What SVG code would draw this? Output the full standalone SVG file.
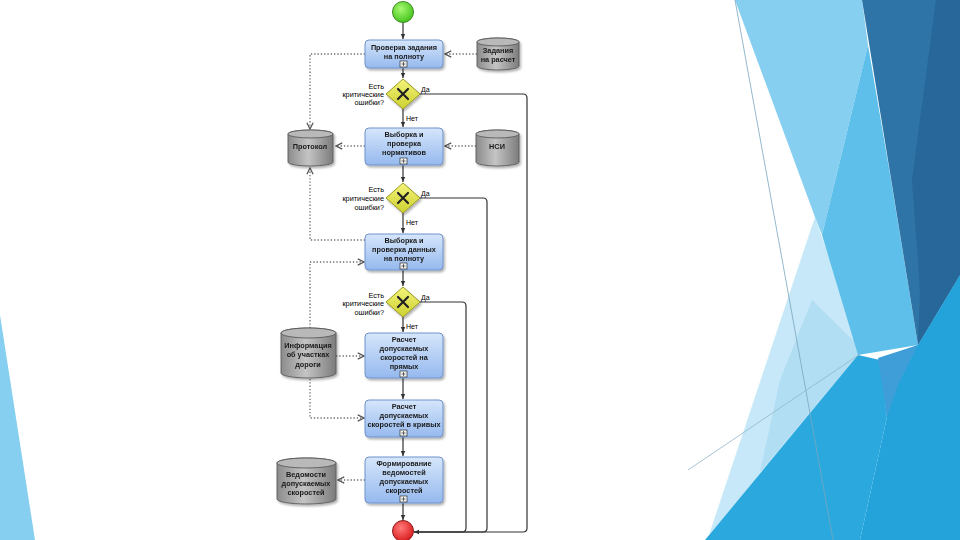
<svg xmlns="http://www.w3.org/2000/svg" width="960" height="540" viewBox="0 0 960 540">
<defs>
<style>
text{font-family:"Liberation Sans",Arial,sans-serif;font-size:7.3px;font-weight:bold;fill:#1a1a1a}
.c{text-anchor:middle}
.r{text-anchor:end;font-weight:normal;fill:#000}
.lab{font-weight:normal;font-size:7px;fill:#000}
.task{fill:url(#gTask);stroke:#6f93cc;stroke-width:1}
.store{fill:url(#gStore);stroke:#5a5a5a;stroke-width:0.9}
.storetop{fill:#b9b9b9;stroke:#5a5a5a;stroke-width:0.9}
.gw{fill:url(#gGw);stroke:#9a9a20;stroke-width:1}
.x{stroke:#222;stroke-width:2.2;stroke-linecap:round}
.flow{fill:none;stroke:#333;stroke-width:1.2}
.dot{fill:none;stroke:#6a6a6a;stroke-width:1.3;stroke-dasharray:1.3 2}
.mk{fill:#f4f4f4;stroke:#333;stroke-width:0.7}
.bg{stroke:none}
</style>
<linearGradient id="gTask" x1="0" y1="0" x2="0" y2="1"><stop offset="0" stop-color="#d6e6fb"/><stop offset="1" stop-color="#95b9ee"/></linearGradient>
<linearGradient id="gStore" x1="0" y1="0" x2="1" y2="0"><stop offset="0" stop-color="#8c8c8c"/><stop offset="0.45" stop-color="#c4c4c4"/><stop offset="1" stop-color="#7c7c7c"/></linearGradient>
<linearGradient id="gGw" x1="0" y1="0" x2="0" y2="1"><stop offset="0" stop-color="#f4f47a"/><stop offset="1" stop-color="#cdd030"/></linearGradient>
<radialGradient id="gStart" cx="0.4" cy="0.35" r="0.7"><stop offset="0" stop-color="#a8f870"/><stop offset="1" stop-color="#3fc21a"/></radialGradient>
<radialGradient id="gEnd" cx="0.4" cy="0.35" r="0.7"><stop offset="0" stop-color="#ff7a7a"/><stop offset="1" stop-color="#d81818"/></radialGradient>
<filter id="sh" x="-20%" y="-20%" width="140%" height="150%"><feDropShadow dx="1.5" dy="2" stdDeviation="1.2" flood-color="#000" flood-opacity="0.3"/></filter>
<marker id="ah" viewBox="0 0 10 10" refX="9" refY="5" markerWidth="5" markerHeight="5" orient="auto"><path d="M0,1 L9,5 L0,9 Z" fill="#333"/></marker>
<marker id="oa" viewBox="0 0 10 10" refX="9" refY="5" markerWidth="6" markerHeight="6" orient="auto"><path d="M1,1 L9,5 L1,9" fill="none" stroke="#555" stroke-width="1.6"/></marker>
</defs>

<!-- background decoration -->
<g id="background">
<rect width="960" height="540" fill="#ffffff"/>
<polygon class="bg" points="0,315 35,540 0,540" fill="#86cff0"/>
<polygon class="bg" points="815,217 860,347 858,355 709,535" fill="#c6e8f8"/>
<polygon class="bg" points="812,300 860,347 858,355 760,472 780,380" fill="#b2def4"/>
<polygon class="bg" points="735,0 862,0 868,45 822,235 815,217" fill="#86cff0"/>
<polygon class="bg" points="868,45 891,180 918,345 858,355 822,235" fill="#5ec0ea"/>
<polygon class="bg" points="862,0 960,0 960,275 918,345" fill="#2e74a6"/>
<polygon class="bg" points="936,0 960,0 960,275 918,345 920,290 912,180" fill="#276799"/>
<polygon class="bg" points="705,540 858,355 880,360 887,417 860,540" fill="#2ba9df"/>
<polygon class="bg" points="880,360 918,345 960,275 960,540 860,540 887,417" fill="#23a3da"/>
<polygon class="bg" points="878,358 918,345 898,385 887,417" fill="#3f9dd7"/>
<line x1="735" y1="0" x2="833" y2="540" stroke="#7aa6bf" stroke-width="0.8"/>
<line x1="688" y1="470" x2="860" y2="354" stroke="#8fb6c8" stroke-width="0.8"/>
</g>

<!-- connectors -->
<g id="connectors">
<path class="flow" d="M403,23 V39" marker-end="url(#ah)"/>
<path class="flow" d="M403,68 V78" marker-end="url(#ah)"/>
<path class="flow" d="M403,109 V127" marker-end="url(#ah)"/>
<path class="flow" d="M403,165 V182" marker-end="url(#ah)"/>
<path class="flow" d="M403,213 V233" marker-end="url(#ah)"/>
<path class="flow" d="M403,270 V286" marker-end="url(#ah)"/>
<path class="flow" d="M403,317 V332" marker-end="url(#ah)"/>
<path class="flow" d="M403,378 V399" marker-end="url(#ah)"/>
<path class="flow" d="M403,437 V456" marker-end="url(#ah)"/>
<path class="flow" d="M403,503 V520" marker-end="url(#ah)"/>
<path class="flow" d="M420,94 H523 Q527,94 527,98 V528 Q527,532 523,532 H414" marker-end="url(#ah)"/>
<path class="flow" d="M420,198 H483 Q487,198 487,202 V528 Q487,532 483,532 H414"/>
<path class="flow" d="M420,302 H462 Q466,302 466,306 V528 Q466,532 462,532 H414"/>
<path class="dot" d="M365,54 H310 V129" marker-end="url(#oa)"/>
<path class="dot" d="M477,54 H445" marker-end="url(#oa)"/>
<path class="dot" d="M365,146 H336" marker-end="url(#oa)"/>
<path class="dot" d="M476,146 H445" marker-end="url(#oa)"/>
<path class="dot" d="M365,240 H310 V168" marker-end="url(#oa)"/>
<path class="dot" d="M310,328 V262 H364" marker-end="url(#oa)"/>
<path class="dot" d="M336,356 H364" marker-end="url(#oa)"/>
<path class="dot" d="M310,379 V418 H364" marker-end="url(#oa)"/>
<path class="dot" d="M365,480 H338" marker-end="url(#oa)"/>
<text class="lab" x="421" y="92">Да</text>
<text class="lab" x="406" y="121">Нет</text>
<text class="lab" x="421" y="196">Да</text>
<text class="lab" x="406" y="225">Нет</text>
<text class="lab" x="421" y="300">Да</text>
<text class="lab" x="406" y="329">Нет</text>
</g>

<g id="start"><circle cx="403" cy="12" r="10.5" fill="url(#gStart)" stroke="#3b8a1c" stroke-width="1"/></g>
<g id="end"><circle cx="403" cy="531" r="10.5" fill="url(#gEnd)" stroke="#8a1a1a" stroke-width="1"/></g>

<g id="task1" filter="url(#sh)">
<rect class="task" x="365" y="40" width="78" height="28" rx="4"/>
<text class="c" x="404" y="50">Проверка задания</text>
<text class="c" x="404" y="59">на полноту</text>
<rect class="mk" x="400" y="61" width="7" height="6"/><path d="M403.5,62 V66 M401.5,64 H405.5" stroke="#333" stroke-width="0.7"/>
</g>

<g id="gw1">
<polygon class="gw" points="403,79 420,94 403,109 386,94" filter="url(#sh)"/>
<path class="x" d="M398,89 L408,99 M408,89 L398,99"/>
<text class="r" x="384" y="89">Есть</text>
<text class="r" x="384" y="97">критические</text>
<text class="r" x="384" y="105">ошибки?</text>
</g>

<g id="task2" filter="url(#sh)">
<rect class="task" x="365" y="128" width="78" height="37" rx="4"/>
<text class="c" x="404" y="137">Выборка и</text>
<text class="c" x="404" y="146">проверка</text>
<text class="c" x="404" y="155">нормативов</text>
<rect class="mk" x="400" y="158" width="7" height="6"/><path d="M403.5,159 V163 M401.5,161 H405.5" stroke="#333" stroke-width="0.7"/>
</g>

<g id="gw2">
<polygon class="gw" points="403,183 420,198 403,213 386,198" filter="url(#sh)"/>
<path class="x" d="M398,193 L408,203 M408,193 L398,203"/>
<text class="r" x="384" y="192">Есть</text>
<text class="r" x="384" y="201">критические</text>
<text class="r" x="384" y="210">ошибки?</text>
</g>

<g id="task3" filter="url(#sh)">
<rect class="task" x="365" y="234" width="78" height="36" rx="4"/>
<text class="c" x="404" y="243">Выборка и</text>
<text class="c" x="404" y="252">проверка данных</text>
<text class="c" x="404" y="261">на полноту</text>
<rect class="mk" x="400" y="263" width="7" height="6"/><path d="M403.5,264 V268 M401.5,266 H405.5" stroke="#333" stroke-width="0.7"/>
</g>

<g id="gw3">
<polygon class="gw" points="403,287 420,302 403,317 386,302" filter="url(#sh)"/>
<path class="x" d="M398,297 L408,307 M408,297 L398,307"/>
<text class="r" x="384" y="298">Есть</text>
<text class="r" x="384" y="306">критические</text>
<text class="r" x="384" y="315">ошибки?</text>
</g>

<g id="task4" filter="url(#sh)">
<rect class="task" x="365" y="333" width="78" height="45" rx="4"/>
<text class="c" x="404" y="342">Расчет</text>
<text class="c" x="404" y="351">допускаемых</text>
<text class="c" x="404" y="360">скоростей на</text>
<text class="c" x="404" y="369">прямых</text>
<rect class="mk" x="400" y="371" width="7" height="6"/><path d="M403.5,372 V376 M401.5,374 H405.5" stroke="#333" stroke-width="0.7"/>
</g>

<g id="task5" filter="url(#sh)">
<rect class="task" x="365" y="400" width="78" height="37" rx="4"/>
<text class="c" x="404" y="409">Расчет</text>
<text class="c" x="404" y="418">допускаемых</text>
<text class="c" x="404" y="427">скоростей в кривых</text>
<rect class="mk" x="400" y="430" width="7" height="6"/><path d="M403.5,431 V435 M401.5,433 H405.5" stroke="#333" stroke-width="0.7"/>
</g>

<g id="task6" filter="url(#sh)">
<rect class="task" x="365" y="457" width="78" height="46" rx="4"/>
<text class="c" x="404" y="466">Формирование</text>
<text class="c" x="404" y="475">ведомостей</text>
<text class="c" x="404" y="484">допускаемых</text>
<text class="c" x="404" y="493">скоростей</text>
<rect class="mk" x="400" y="496" width="7" height="6"/><path d="M403.5,497 V501 M401.5,499 H405.5" stroke="#333" stroke-width="0.7"/>
</g>

<g id="store-zadaniya" filter="url(#sh)">
<path class="store" d="M477,42 A21,4 0 0 1 519,42 V66 A21,4 0 0 1 477,66 Z"/>
<ellipse class="storetop" cx="498" cy="42" rx="21" ry="4"/>
<text class="c" x="498" y="53">Задания</text>
<text class="c" x="498" y="62">на расчет</text>
</g>

<g id="store-protokol" filter="url(#sh)">
<path class="store" d="M288,134 A22.5,4 0 0 1 333,134 V162 A22.5,4 0 0 1 288,162 Z"/>
<ellipse class="storetop" cx="310.5" cy="134" rx="22.5" ry="4"/>
<text class="c" x="310" y="149">Протокол</text>
</g>

<g id="store-nsi" filter="url(#sh)">
<path class="store" d="M476,134 A21.5,4 0 0 1 519,134 V162 A21.5,4 0 0 1 476,162 Z"/>
<ellipse class="storetop" cx="497.5" cy="134" rx="21.5" ry="4"/>
<text class="c" x="497" y="149">НСИ</text>
</g>

<g id="store-info" filter="url(#sh)">
<path class="store" d="M281,333 A27.5,5 0 0 1 336,333 V373 A27.5,5 0 0 1 281,373 Z"/>
<ellipse class="storetop" cx="308.5" cy="333" rx="27.5" ry="5"/>
<text class="c" x="308" y="348">Информация</text>
<text class="c" x="308" y="357">об участках</text>
<text class="c" x="308" y="367">дороги</text>
</g>

<g id="store-vedomosti" filter="url(#sh)">
<path class="store" d="M277,463 A29.5,5 0 0 1 336,463 V499 A29.5,5 0 0 1 277,499 Z"/>
<ellipse class="storetop" cx="306.5" cy="463" rx="29.5" ry="5"/>
<text class="c" x="306" y="477">Ведомости</text>
<text class="c" x="306" y="486">допускаемых</text>
<text class="c" x="306" y="495">скоростей</text>
</g>
</svg>
